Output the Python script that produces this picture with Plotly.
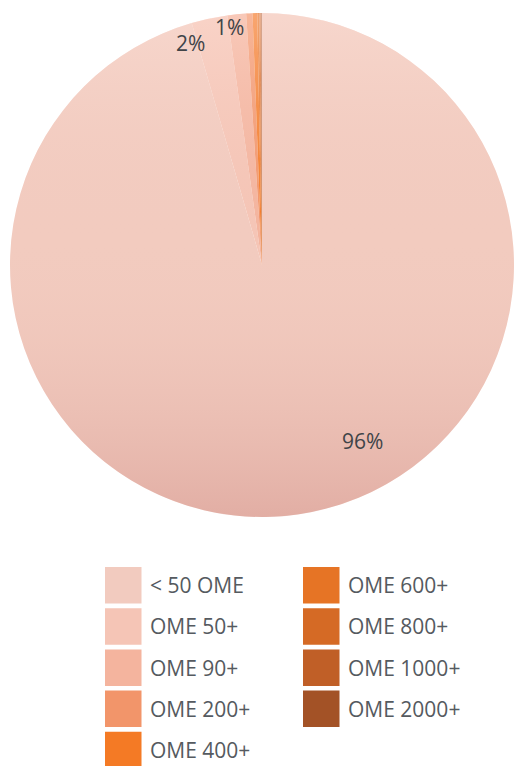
import base64
import plotly.graph_objects as go

# Share of patients by daily opioid dose band (oral morphine equivalent)
categories = ["< 50 OME", "OME 50+", "OME 90+", "OME 200+", "OME 400+",
              "OME 600+", "OME 800+", "OME 1000+", "OME 2000+"]
shares = [95.5, 2.3, 1.2, 0.4, 0.3, 0.13, 0.08, 0.05, 0.04]
colors = ["#f2cbbf", "#f5c5b6", "#f4b49e", "#f2956a", "#f47a25",
          "#e67425", "#d56a25", "#c05f27", "#a35226"]

W, H = 514, 766
total = sum(shares)
pct = [v / total * 100 for v in shares]

# pie geometry in pixels
cx, cy, r = 262, 265, 252

fig = go.Figure()
fig.add_trace(go.Pie(
    labels=categories,
    values=shares,
    sort=False,
    direction="clockwise",
    rotation=0,
    marker=dict(colors=colors, line=dict(width=0)),
    textinfo="none",
    hoverinfo="label+percent",
    showlegend=False,
    domain=dict(x=[(cx - r) / W, (cx + r) / W],
                y=[1 - (cy + r) / H, 1 - (cy - r) / H]),
))

# soft vertical shading over the disc: lighter on top, deeper at the bottom
svg = f"""<svg xmlns='http://www.w3.org/2000/svg' width='{2*r}' height='{2*r}' viewBox='0 0 {2*r} {2*r}'>
<defs><linearGradient id='g' x1='0' y1='0' x2='0' y2='1'>
<stop offset='0' stop-color='rgb(255,232,225)' stop-opacity='0.40'/>
<stop offset='0.45' stop-color='rgb(240,200,190)' stop-opacity='0'/>
<stop offset='1' stop-color='rgb(182,95,91)' stop-opacity='0.27'/>
</linearGradient></defs>
<circle cx='{r}' cy='{r}' r='{r}' fill='url(#g)'/></svg>"""
src = "data:image/svg+xml;base64," + base64.b64encode(svg.encode()).decode()

images = [dict(source=src, xref="paper", yref="paper",
               x=(cx - r) / W, y=1 - (cy - r) / H,
               sizex=2 * r / W, sizey=2 * r / H,
               xanchor="left", yanchor="top", sizing="stretch",
               layer="above")]

annotations = []
shapes = []

# percentage labels for the slices of 1% and more
label_pos = {0: (362, 441), 1: (190, 43), 2: (229, 27)}
for i, (px, py) in label_pos.items():
    annotations.append(dict(
        x=px / W, y=1 - py / H, xref="paper", yref="paper",
        text=f"{round(pct[i])}%", showarrow=False,
        font=dict(family="Open Sans", size=21, color="#404448"),
        xanchor="center", yanchor="middle"))

# two-column legend
col_x = [105, 303]
row_y0, row_step, sw = 567, 41.2, 36.5
for i, (name, col) in enumerate(zip(categories, colors)):
    c, rrow = (0, i) if i < 5 else (1, i - 5)
    x0 = col_x[c]
    y0 = row_y0 + rrow * row_step
    shapes.append(dict(type="rect", xref="paper", yref="paper",
                       x0=x0 / W, x1=(x0 + sw) / W,
                       y0=1 - (y0 + sw) / H, y1=1 - y0 / H,
                       fillcolor=col, line=dict(width=0), layer="above"))
    annotations.append(dict(
        x=(x0 + 43) / W, y=1 - (y0 + sw / 2) / H, xref="paper", yref="paper",
        text=name, showarrow=False, xanchor="left", yanchor="middle",
        font=dict(family="Open Sans", size=21, color="#555a60")))

fig.update_layout(
    width=W, height=H,
    margin=dict(l=0, r=0, t=0, b=0),
    paper_bgcolor="white", plot_bgcolor="white",
    images=images, shapes=shapes, annotations=annotations,
)

fig.write_html("out.html")
